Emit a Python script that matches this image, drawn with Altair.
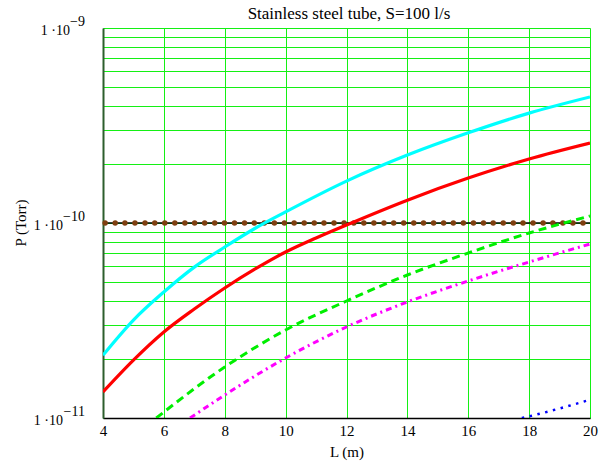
import altair as alt
import pandas as pd

# ---- data ----
title_text = "Stainless steel tube, S=100 l/s"
y_title_text = "P (Torr)"

cyan_L = [4, 5, 6, 7, 8, 9, 10, 12, 14, 16, 18, 20]
cyan_P = [2.10e-11, 3.18e-11, 4.43e-11, 5.94e-11, 7.53e-11, 9.4e-11, 1.14e-10, 1.64e-10, 2.23e-10, 2.90e-10, 3.66e-10, 4.43e-10]

red_L = [4, 5, 6, 7, 8, 9, 10, 11, 12, 14, 16, 18, 20]
red_P = [1.36e-11, 1.98e-11, 2.76e-11, 3.62e-11, 4.64e-11, 5.81e-11, 7.10e-11, 8.38e-11, 9.77e-11, 1.31e-10, 1.70e-10, 2.13e-10, 2.57e-10]

green_L = [5.75, 6, 8, 10, 12, 14, 16, 18, 20]
green_P = [1.0e-11, 1.073e-11, 1.826e-11, 2.827e-11, 3.981e-11, 5.412e-11, 7.017e-11, 8.887e-11, 1.086e-10]

magenta_L = [6.86, 8, 10, 12, 14, 16, 18, 20]
magenta_P = [1.0e-11, 1.312e-11, 2.031e-11, 2.929e-11, 3.935e-11, 5.042e-11, 6.310e-11, 7.801e-11]

blue_L = [17.76, 18, 20]
blue_P = [1.0e-11, 1.02e-11, 1.24e-11]

limit_L = [4, 20]
limit_P = [1.0e-10, 1.0e-10]
marker_L = [4.07, 4.40, 4.72, 5.05, 5.38, 5.70, 6.03, 6.36, 6.69, 7.01, 7.34, 7.67, 7.99,
            8.32, 8.65, 8.97, 9.30, 9.63, 9.96, 10.28, 10.61, 10.94, 11.26, 11.59, 11.92,
            12.24, 12.57, 12.90, 13.23, 13.55, 13.88, 14.21, 14.53, 14.86, 15.19, 15.51,
            15.84, 16.17, 16.50, 16.82, 17.15, 17.48, 17.80, 18.13, 18.46, 18.78, 19.11,
            19.44, 19.77]
marker_P = [1.0e-10] * len(marker_L)

x_ticks = [4, 6, 8, 10, 12, 14, 16, 18, 20]
y_grid = [1e-11, 2e-11, 3e-11, 4e-11, 5e-11, 6e-11, 7e-11, 8e-11, 9e-11,
          1e-10, 2e-10, 3e-10, 4e-10, 5e-10, 6e-10, 7e-10, 8e-10, 9e-10, 1e-9]
y_label_vals = [1e-11, 1e-10, 1e-9]
y_label_exps = ["\u221211", "\u221210", "\u22129"]

FONT = "Liberation Serif"
GRID = "#14f014"
FS = 15
YFS = 14

xs = alt.Scale(domain=[4, 20], nice=False, zero=False)
ys = alt.Scale(type="log", domain=[1e-11, 1e-9], nice=False)

x_enc = alt.X("L:Q", scale=xs,
              axis=alt.Axis(values=x_ticks, grid=True, gridColor=GRID, gridWidth=1,
                            ticks=False, domain=True, domainColor="black", domainWidth=1.5,
                            labelFont=FONT, labelFontSize=FS, labelColor="black",
                            labelPadding=5, labelFlush=False,
                            title="L (m)", titleFont=FONT, titleFontSize=FS,
                            titleFontWeight="normal", titleColor="black", titlePadding=6))
y_enc = alt.Y("P:Q", scale=ys,
              axis=alt.Axis(values=y_grid, grid=True, gridColor=GRID, gridWidth=1,
                            ticks=False, labels=False, domain=True,
                            domainColor="#2d5e2d", domainWidth=2, title=""))


def curve(L, P, color, width, dash=None):
    df = pd.DataFrame({"L": L, "P": P})
    kw = dict(color=color, strokeWidth=width, clip=True, interpolate="monotone")
    if dash is not None:
        kw["strokeDash"] = dash
    return alt.Chart(df).mark_line(**kw).encode(x=x_enc, y=y_enc)


base_line = curve(limit_L, limit_P, "black", 1.5)
markers = alt.Chart(pd.DataFrame({"L": marker_L, "P": marker_P})).mark_circle(
    color="#7f3f10", size=30, opacity=1).encode(x=x_enc, y=y_enc)

cyan = curve(cyan_L, cyan_P, "#00ffff", 3.2)
red = curve(red_L, red_P, "#ff0000", 3.2)
green = curve(green_L, green_P, "#00ee00", 3, [8, 5])
magenta = curve(magenta_L, magenta_P, "#ff00ff", 3, [6, 4, 2, 4])
blue = curve(blue_L, blue_P, "#0000ff", 2.5, [2.5, 5.5])

lab_df = pd.DataFrame({"P": y_label_vals, "exp": y_label_exps})
lab_df["bx"] = [-18 - (8.0 + 7.0 * (len(e) - 1)) for e in y_label_exps]
lab_df["ex"] = -18
lab_df["base"] = "1 \u00b710"

base_txt = alt.Chart(lab_df).mark_text(
    font=FONT, fontSize=YFS, align="right", baseline="middle", dy=3, color="black"
).encode(x=alt.X("bx:Q", scale=None), y=alt.Y("P:Q", scale=ys), text="base:N")
exp_txt = alt.Chart(lab_df).mark_text(
    font=FONT, fontSize=YFS, align="right", baseline="middle", dy=-6, color="black"
).encode(x=alt.X("ex:Q", scale=None), y=alt.Y("P:Q", scale=ys), text="exp:N")

title_mark = alt.Chart(pd.DataFrame({"t": [title_text]})).mark_text(
    font=FONT, fontSize=17, align="center", baseline="middle", color="black"
).encode(x=alt.value(246), y=alt.value(-14), text="t:N")

ytitle_mark = alt.Chart(pd.DataFrame({"t": [y_title_text]})).mark_text(
    font=FONT, fontSize=FS, align="center", baseline="middle", color="black", angle=270
).encode(x=alt.value(-82), y=alt.value(195), text="t:N")

chart = alt.layer(
    base_line, markers, cyan, red, green, magenta, blue, base_txt, exp_txt,
    title_mark, ytitle_mark
).properties(
    width=487, height=390,
    autosize=alt.AutoSizeParams(type="none"),
    padding={"left": 103, "top": 28, "right": 14, "bottom": 45},
).configure_view(stroke="black", strokeWidth=1.5).configure(background="white")

chart.save("out.html", embed_options={"renderer": "svg", "actions": False})
